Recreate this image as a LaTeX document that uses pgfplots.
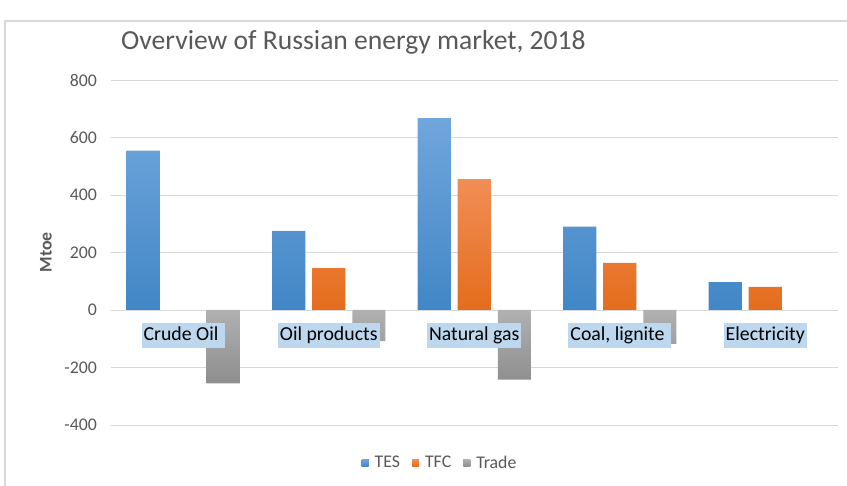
\documentclass[border=0pt]{standalone}
\usepackage{fontspec}
\setmainfont{Carlito}
\usepackage{pgfplots}
\pgfplotsset{compat=1.18}
\definecolor{tickgray}{HTML}{595959}
\definecolor{gridgray}{HTML}{D9D9D9}
\definecolor{frame}{HTML}{D9D9D9}
\definecolor{labelblue}{HTML}{BDD7EE}
\definecolor{tesT}{HTML}{70A6DC}
\definecolor{tesB}{HTML}{4186C6}
\definecolor{tesF}{HTML}{5B9BD5}
\definecolor{tfcT}{HTML}{F18E56}
\definecolor{tfcB}{HTML}{E46C1C}
\definecolor{tfcF}{HTML}{ED7D31}
\definecolor{trdT}{HTML}{B0B0B0}
\definecolor{trdB}{HTML}{8E8E8E}
\definecolor{trdF}{HTML}{A5A5A5}
\begin{document}
\begin{tikzpicture}
\useasboundingbox (0,0) rectangle (847bp,486bp);
\fill[white] (0,0) rectangle (847bp,486bp);
\draw[frame, line width=1.2bp] (5bp,0) -- (5bp,465bp) -- (847bp,465bp);
\node[anchor=west, text=tickgray, font=\fontsize{27.6bp}{32bp}\selectfont, inner sep=0pt] at (121bp,444bp) {Overview of Russian energy market, 2018};
\begin{axis}[
  at={(110.5bp,61bp)}, anchor=south west,
  scale only axis, width=727.5bp, height=345bp,
  xmin=-0.5, xmax=4.5, ymin=-400, ymax=800,
  ytick={-400,-200,0,200,400,600,800},
  xtick=\empty,
  axis line style={draw=none},
  major tick length=0pt,
  ymajorgrids, grid style={gridgray, line width=0.8bp},
  yticklabel style={text=tickgray, font=\fontsize{17.8bp}{20bp}\selectfont, xshift=-10bp},
  /pgf/number format/assume math mode=true,
  ylabel={Mtoe},
  ylabel style={at={(axis description cs:-0.0887,0.5)}, anchor=center, text=tickgray, font=\bfseries\fontsize{17.8bp}{20bp}\selectfont},
  bar width=0.227,
  legend style={at={(0.453,-0.110)}, anchor=center, draw=none, fill=none,
    legend columns=3, font=\fontsize{17.8bp}{20bp}\selectfont, text=tickgray,
    /tikz/every odd column/.append style={column sep=4bp},
    /tikz/every even column/.append style={column sep=10bp}},
  legend cell align=left,
]
\addplot[ybar, bar shift=-0.275, draw=none, top color=tesT, bottom color=tesB,
  legend image code/.code={\fill[tesF] (0bp,-3.5bp) rectangle (7bp,3.5bp);}]
  coordinates {(0,554) (1,275) (2,667) (3,290) (4,97)};
\addlegendentry{TES}
\addplot[ybar, bar shift=0, draw=none, top color=tfcT, bottom color=tfcB,
  legend image code/.code={\fill[tfcF] (0bp,-3.5bp) rectangle (7bp,3.5bp);}]
  coordinates {(1,146) (2,455) (3,164) (4,80)};
\addlegendentry{TFC}
\addplot[ybar, bar shift=0.275, draw=none, top color=trdT, bottom color=trdB,
  legend image code/.code={\fill[trdF] (0bp,-3.5bp) rectangle (7bp,3.5bp);}]
  coordinates {(0,-255) (1,-108) (2,-242) (3,-118)};
\addlegendentry{Trade}
\tikzset{catlab/.style={fill=labelblue, text=black, font=\fontsize{19.8bp}{22bp}\selectfont, inner xsep=2bp, inner ysep=1bp, text height=16.5bp, text depth=6.5bp, anchor=center}}
\node[catlab] at (axis cs:0,-87) {Crude Oil\kern4.5bp};
\node[catlab] at (axis cs:1,-87) {Oil products};
\node[catlab] at (axis cs:2,-87) {Natural gas};
\node[catlab] at (axis cs:3,-87) {Coal, lignite\kern4.5bp};
\node[catlab] at (axis cs:4,-87) {Electricity};
\end{axis}
\end{tikzpicture}
\end{document}
